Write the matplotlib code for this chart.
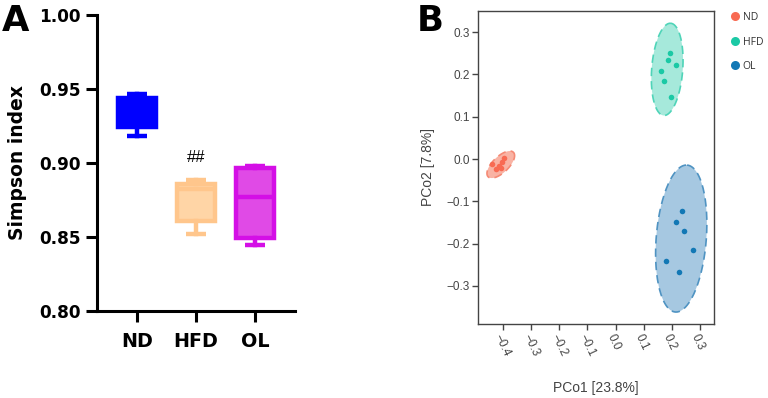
import numpy as np
import matplotlib
matplotlib.use("Agg")
import matplotlib.pyplot as plt
from matplotlib.patches import Polygon
from matplotlib.lines import Line2D

# ---------------- Data ----------------
# Panel A: Simpson index box statistics
groups = ["ND", "HFD", "OL"]
simpson_whislo = [0.9184, 0.8520, 0.8443]
simpson_q1 = [0.9245, 0.8607, 0.8495]
simpson_med = [0.9350, 0.8821, 0.8772]
simpson_q3 = [0.9440, 0.8859, 0.8965]
simpson_whishi = [0.9463, 0.8882, 0.8983]
sig_label = "##"
sig_group = 1  # index of HFD
sig_y = 0.9037

# Panel B: PCoA sample coordinates
nd_x = [-0.439, -0.415, -0.402, -0.395, -0.406, -0.426]
nd_y = [-0.011, -0.016, -0.006, 0.002, -0.021, -0.024]
hfd_x = [0.192, 0.186, 0.216, 0.163, 0.174, 0.197]
hfd_y = [0.250, 0.234, 0.222, 0.207, 0.184, 0.146]
ol_x = [0.236, 0.216, 0.245, 0.275, 0.180, 0.227]
ol_y = [-0.122, -0.150, -0.171, -0.214, -0.242, -0.268]

# Ellipse parameters (center, semi-axis vectors a and b), data units
ell_cx = [-0.408, 0.1836, 0.2335]
ell_cy = [-0.013, 0.212, -0.188]
ell_ax = [0.045, 0.0125, 0.0208]
ell_ay = [0.0289, 0.109, 0.1737]
ell_bx = [0.0198, 0.055, 0.0887]
ell_by = [-0.0136, -0.0028, -0.0047]

pc1_label = "PCo1 [23.8%]"
pc2_label = "PCo2 [7.8%]"

# ---------------- Styles ----------------
box_face = ["#0000ff", "#ffd5a6", "#e04ae6"]
box_edge = ["#0000ff", "#ffc68c", "#d40fe6"]
pt_col = ["#f86a52", "#1bc9a5", "#1278b5"]
ell_fill = ["#f9b3a4", "#a6e9db", "#a6c8e1"]
ell_edge = ["#f58a75", "#4fd4b8", "#4f93c2"]

fig = plt.figure(figsize=(7.68, 3.98), dpi=100)

# ---------------- Panel A ----------------
axA = fig.add_axes([97/768, 1-311/398, 198/768, 296/398])
stats = []
for i, g in enumerate(groups):
    stats.append(dict(label=g, whislo=simpson_whislo[i], q1=simpson_q1[i],
                      med=simpson_med[i], q3=simpson_q3[i], whishi=simpson_whishi[i]))
lw = 3.2
for i, st in enumerate(stats):
    axA.bxp([st], positions=[i+1], widths=0.66, patch_artist=True,
            showfliers=False, capwidths=[0.33],
            boxprops=dict(facecolor=box_face[i], edgecolor=box_edge[i], linewidth=lw),
            medianprops=dict(color=box_edge[i], linewidth=lw),
            whiskerprops=dict(color=box_edge[i], linewidth=lw),
            capprops=dict(color=box_edge[i], linewidth=lw, solid_capstyle="butt"))
axA.set_xlim(1 - 40/59, 3 + 40/59)
axA.set_ylim(0.80, 1.00)
axA.set_yticks([0.80, 0.85, 0.90, 0.95, 1.00])
axA.set_yticklabels(["0.80", "0.85", "0.90", "0.95", "1.00"])
axA.set_xticks([1, 2, 3])
axA.set_xticklabels(groups)
for s in ["top", "right"]:
    axA.spines[s].set_visible(False)
for s in ["left", "bottom"]:
    axA.spines[s].set_linewidth(2.2)
axA.tick_params(axis="y", length=8, width=2.2, pad=3.5, labelsize=12.2)
axA.tick_params(axis="x", length=8, width=2.2, pad=7, labelsize=13.8)
for t in axA.get_yticklabels() + axA.get_xticklabels():
    t.set_fontweight("bold")
axA.set_ylabel("Simpson index", fontsize=13.5, fontweight="bold", labelpad=9)
axA.text(sig_group+1, sig_y, sig_label,
         ha="center", va="center", fontsize=12, family="Liberation Sans")

fig.text(2/768, 1-4/398, "A", fontsize=25.5, fontweight="bold", ha="left", va="top")
fig.text(417/768, 1-4/398, "B", fontsize=25.5, fontweight="bold", ha="left", va="top")

# ---------------- Panel B ----------------
axB = fig.add_axes([478/768, 1-324/398, 236/768, 313/398])
t = np.linspace(0, 2*np.pi, 200)
for i in range(3):
    xs = ell_cx[i] + ell_ax[i]*np.cos(t) + ell_bx[i]*np.sin(t)
    ys = ell_cy[i] + ell_ay[i]*np.cos(t) + ell_by[i]*np.sin(t)
    axB.add_patch(Polygon(np.column_stack([xs, ys]), closed=True,
                          facecolor=ell_fill[i], edgecolor="none", zorder=1))
    axB.plot(np.append(xs, xs[0]), np.append(ys, ys[0]), color=ell_edge[i],
             lw=1.2, ls=(0, (5, 3)), zorder=2)
for xs, ys, c in zip([nd_x, hfd_x, ol_x], [nd_y, hfd_y, ol_y], pt_col):
    axB.scatter(xs, ys, s=16, color=c, zorder=3, linewidths=0)
axB.set_xlim(-0.489, 0.35)
axB.set_ylim(-0.39, 0.35)
xt = [-0.4, -0.3, -0.2, -0.1, 0.0, 0.1, 0.2, 0.3]
axB.set_xticks(xt)
axB.set_xticklabels(["\u22120.4", "\u22120.3", "\u22120.2", "\u22120.1", "0.0", "0.1", "0.2", "0.3"],
                    rotation=-65, ha="left", va="top", rotation_mode="anchor")
yt = [-0.3, -0.2, -0.1, 0.0, 0.1, 0.2, 0.3]
axB.set_yticks(yt)
axB.set_yticklabels(["\u22120.3", "\u22120.2", "\u22120.1", "0.0", "0.1", "0.2", "0.3"])
for s in axB.spines.values():
    s.set_color("#444444")
    s.set_linewidth(1.0)
axB.tick_params(length=4, width=1.0, color="#444444", labelcolor="#444444",
                labelsize=8.5, pad=2)
for tl in axB.get_xticklabels() + axB.get_yticklabels():
    tl.set_family("Liberation Sans")
axB.set_xlabel(pc1_label, fontsize=10, color="#444444", family="Liberation Sans", labelpad=16)
axB.set_ylabel(pc2_label, fontsize=10, color="#444444", family="Liberation Sans", labelpad=8)

handles = [Line2D([], [], marker="o", ls="none", markersize=6.5, color=c,
                  markeredgewidth=0) for c in pt_col]
leg = fig.legend(handles, groups, loc="upper left", bbox_to_anchor=(729/768, 1-12/398),
                 frameon=False, fontsize=7.5, handletextpad=0.1, labelspacing=1.3,
                 handlelength=1.2, borderaxespad=0, borderpad=0)
for tx in leg.get_texts():
    tx.set_color("#333333")
    tx.set_family("Open Sans")

fig.savefig("out.png", dpi=100)
